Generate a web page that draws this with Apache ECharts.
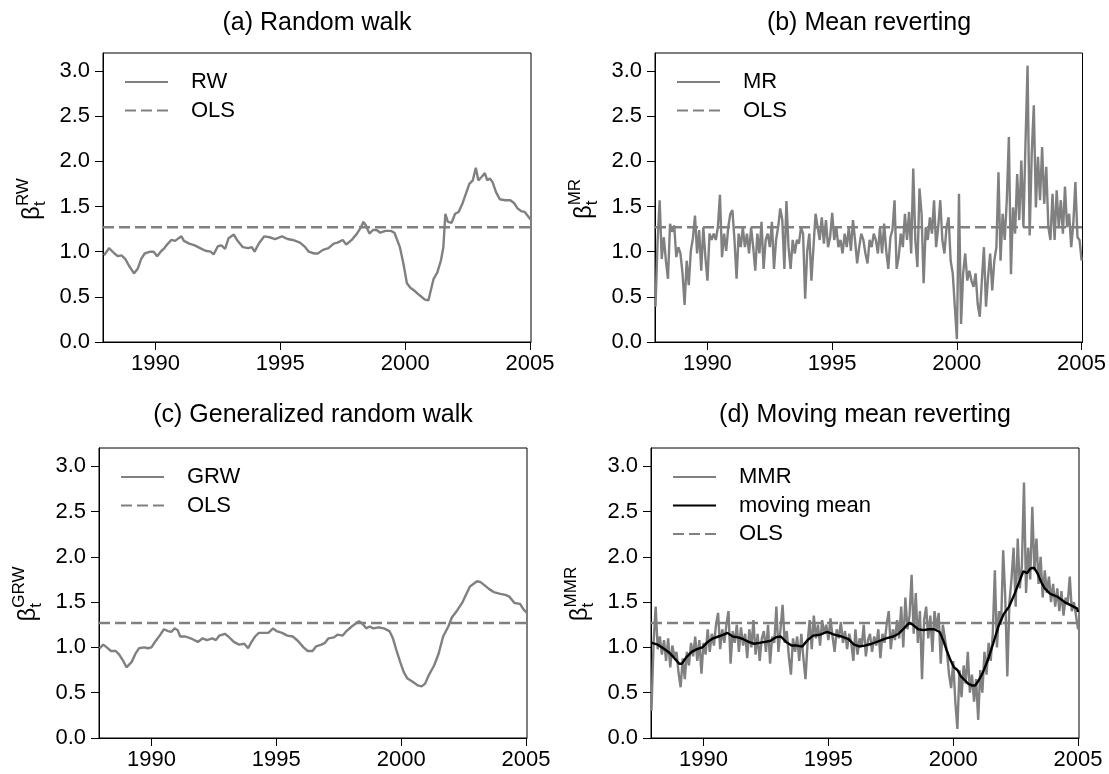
<!DOCTYPE html>
<html><head><meta charset="utf-8">
<script src="https://cdn.jsdelivr.net/npm/echarts@6/dist/echarts.min.js"></script>
<style>html,body{margin:0;padding:0;background:#fff}#c{width:1109px;height:774px}</style>
</head><body><div id="c"></div>
<script>
// ---------- data ----------
const monthStart = 1987.92;          // first monthly observation
const xTicks = [1990, 1995, 2000, 2005];
const yTicks = [0, 0.5, 1, 1.5, 2, 2.5, 3];
const olsValue = 1.27;
const panelTitles = ['(a) Random walk', '(b) Mean reverting', '(c) Generalized random walk', '(d) Moving mean reverting'];
const supLabels = ['RW', 'MR', 'GRW', 'MMR'];

const rwYears = [1987.94,1988.07,1988.14,1988.36,1988.5,1988.64,1988.79,1988.93,1989.07,1989.14,
1989.29,1989.43,1989.57,1989.79,1989.93,1990.07,1990.21,1990.36,1990.5,1990.64,
1990.79,1990.93,1991.04,1991.14,1991.36,1991.57,1991.79,1992.0,1992.21,1992.33,
1992.5,1992.64,1992.79,1992.93,1993.14,1993.29,1993.5,1993.71,1993.86,1993.97,
1994.14,1994.36,1994.57,1994.79,1995.07,1995.29,1995.5,1995.79,1996.0,1996.14,
1996.36,1996.5,1996.71,1996.93,1997.14,1997.29,1997.5,1997.64,1997.86,1998.07,
1998.21,1998.33,1998.43,1998.57,1998.71,1998.86,1999.0,1999.21,1999.43,1999.57,
1999.64,1999.79,1999.93,2000.07,2000.21,2000.36,2000.57,2000.79,2000.93,2001.0,
2001.14,2001.29,2001.43,2001.53,2001.61,2001.71,2001.86,2002.0,2002.14,2002.29,
2002.43,2002.57,2002.71,2002.83,2002.93,2003.07,2003.19,2003.29,2003.39,2003.5,
2003.64,2003.79,2004.0,2004.21,2004.36,2004.5,2004.64,2004.79,2004.93,2005.04];
const rwValues = [0.96,1.01,1.04,0.98,0.95,0.96,0.92,0.85,0.79,0.76,
0.81,0.92,0.98,1.00,1.00,0.95,1.00,1.04,1.09,1.13,
1.12,1.15,1.17,1.12,1.09,1.07,1.04,1.01,1.00,0.97,
1.06,1.07,1.03,1.15,1.19,1.12,1.05,1.04,1.05,1.00,
1.09,1.17,1.16,1.14,1.17,1.14,1.13,1.10,1.05,1.00,
0.98,0.98,1.02,1.04,1.09,1.10,1.13,1.08,1.13,1.20,
1.26,1.33,1.29,1.20,1.24,1.24,1.21,1.23,1.23,1.21,
1.20,1.05,0.87,0.65,0.60,0.57,0.52,0.47,0.46,0.48,
0.70,0.77,0.90,1.05,1.42,1.33,1.32,1.42,1.44,1.53,
1.64,1.75,1.79,1.93,1.79,1.83,1.87,1.79,1.81,1.77,
1.66,1.58,1.57,1.57,1.54,1.48,1.45,1.44,1.39,1.35];

const mrValues = [
0.39,1.11,1.57,0.92,1.16,0.90,0.70,1.31,1.22,1.29,0.94,1.05,
0.98,0.76,0.41,0.90,0.63,1.01,1.15,1.40,0.98,1.24,0.79,1.27,
0.94,0.68,1.20,1.13,1.20,1.13,1.27,1.63,0.94,1.20,1.01,1.27,
1.42,1.46,1.13,0.70,1.20,1.05,1.27,1.05,1.20,0.98,1.27,1.05,
0.79,1.20,0.98,1.33,0.81,1.13,1.20,1.05,1.33,0.81,1.13,1.27,
1.48,1.35,0.81,1.56,1.05,0.81,1.13,0.98,1.13,1.09,1.27,1.20,
0.48,1.01,1.20,0.68,1.05,1.42,1.27,1.13,1.38,1.09,1.35,1.05,
1.16,1.43,1.13,1.27,1.05,1.13,0.98,1.20,1.05,1.27,1.01,1.35,
1.13,0.87,1.05,1.20,1.13,0.98,0.87,1.13,1.05,1.20,1.13,0.98,
1.27,0.98,1.31,1.01,0.81,1.16,1.24,1.57,0.81,0.94,1.20,1.05,
1.42,1.13,1.44,0.98,1.92,1.13,0.83,1.70,1.42,0.65,1.27,1.13,
1.38,1.20,1.57,1.05,1.27,1.57,1.13,0.98,1.27,1.38,0.90,0.76,
0.39,0.03,1.64,0.20,0.76,0.98,0.68,0.79,0.68,0.61,0.76,0.42,
0.28,0.68,1.05,0.39,0.72,0.98,0.57,0.90,1.05,1.88,0.90,1.42,
1.13,1.57,2.27,0.75,1.49,1.20,1.86,1.35,2.01,1.27,2.20,3.06,
1.18,2.08,2.62,1.49,2.05,1.57,2.16,1.53,1.94,1.27,1.13,1.64,
1.13,1.68,1.27,1.57,1.20,1.72,1.27,1.42,1.05,1.31,1.77,1.16,1.13,0.90];

const grwYears = [1987.92,1988.07,1988.21,1988.38,1988.57,1988.71,1988.85,1989.0,1989.07,1989.21,
1989.36,1989.5,1989.71,1989.86,1990.0,1990.14,1990.33,1990.5,1990.67,1990.79,
1990.93,1991.05,1991.15,1991.36,1991.65,1991.86,1992.05,1992.22,1992.44,1992.58,
1992.72,1992.94,1993.08,1993.3,1993.51,1993.72,1993.87,1994.01,1994.15,1994.3,
1994.51,1994.68,1994.87,1995.01,1995.23,1995.44,1995.66,1995.87,1996.09,1996.26,
1996.45,1996.59,1996.81,1996.95,1997.09,1997.31,1997.45,1997.66,1997.81,1998.02,
1998.17,1998.31,1998.45,1998.6,1998.74,1998.88,1999.1,1999.31,1999.53,1999.67,
1999.81,1999.96,2000.1,2000.24,2000.46,2000.67,2000.82,2000.96,2001.1,2001.32,
2001.5,2001.68,2001.89,2002.03,2002.25,2002.46,2002.61,2002.75,2002.89,2003.04,
2003.18,2003.32,2003.54,2003.71,2003.97,2004.18,2004.33,2004.54,2004.76,2004.9,2005.04];
const grwValues = [0.99,1.03,1.00,0.96,0.96,0.92,0.86,0.78,0.77,0.84,
0.93,0.99,1.00,0.99,1.00,1.06,1.13,1.20,1.18,1.17,
1.21,1.19,1.12,1.12,1.09,1.06,1.10,1.08,1.10,1.08,
1.13,1.15,1.12,1.06,1.03,1.04,0.99,1.06,1.12,1.16,
1.16,1.16,1.21,1.18,1.16,1.13,1.12,1.07,1.00,0.96,
0.96,1.01,1.03,1.05,1.10,1.11,1.14,1.13,1.18,1.23,
1.26,1.29,1.26,1.21,1.23,1.21,1.22,1.21,1.18,1.10,
0.97,0.84,0.73,0.66,0.62,0.58,0.57,0.60,0.69,0.80,
0.93,1.12,1.23,1.33,1.41,1.50,1.59,1.67,1.70,1.73,
1.72,1.69,1.64,1.61,1.59,1.58,1.56,1.49,1.48,1.42,1.38];

const mmrValues = [
0.30,1.05,1.45,0.98,1.12,0.92,1.08,0.85,1.10,0.78,1.02,0.90,
0.95,0.72,0.56,0.88,0.65,0.95,0.80,1.05,0.90,1.12,0.85,1.08,
0.71,1.05,0.92,1.20,0.95,1.15,1.02,1.25,1.38,0.98,1.20,1.05,
1.25,1.40,0.82,1.18,1.05,1.25,0.95,1.22,1.02,1.15,0.88,1.20,
1.00,1.30,0.92,1.15,0.85,1.10,1.18,0.95,1.25,0.82,1.12,1.05,
1.45,0.95,1.20,1.47,1.05,1.18,0.90,0.70,1.10,0.95,1.12,0.85,
1.15,0.88,0.65,1.05,1.30,0.98,1.35,1.10,1.25,1.02,1.30,1.15,
1.25,1.08,1.32,1.12,0.95,1.20,1.10,1.28,1.05,1.18,0.98,1.15,
1.05,0.85,1.20,0.92,1.10,1.02,1.25,0.90,1.08,1.15,0.95,1.12,
1.02,1.20,0.88,1.15,1.05,1.25,1.40,0.98,1.20,1.08,1.30,1.10,
1.45,1.00,1.55,1.20,1.35,1.80,1.15,1.60,1.05,1.40,0.65,1.30,
1.45,1.10,1.35,0.95,1.40,1.20,1.38,0.82,1.25,1.10,0.95,0.70,
0.55,0.85,0.40,0.10,0.75,0.45,0.80,0.60,0.95,0.50,0.70,0.40,
0.65,0.20,0.75,0.50,0.95,0.70,1.05,0.85,1.15,1.85,1.00,1.40,
1.25,2.07,1.55,0.68,1.50,1.75,2.10,1.45,2.20,1.65,1.90,2.82,
1.60,2.10,1.75,2.55,1.85,2.20,1.70,2.00,1.55,1.85,1.60,1.78,
1.50,1.70,1.45,1.65,1.40,1.62,1.35,1.55,1.48,1.78,1.40,1.50,1.35,1.20];

const mmYears = [1987.93,1988.17,1988.39,1988.6,1988.81,1989.03,1989.14,1989.31,1989.53,1989.74,
1989.96,1990.17,1990.39,1990.6,1990.81,1990.96,1991.17,1991.39,1991.6,1991.81,
1992.03,1992.24,1992.46,1992.67,1992.89,1993.1,1993.31,1993.53,1993.74,1993.96,
1994.17,1994.39,1994.67,1994.96,1995.24,1995.53,1995.81,1996.03,1996.24,1996.46,
1996.74,1997.03,1997.31,1997.6,1997.81,1998.03,1998.24,1998.39,1998.6,1998.81,
1999.03,1999.24,1999.46,1999.6,1999.74,1999.89,2000.03,2000.17,2000.31,2000.46,
2000.6,2000.74,2000.89,2001.03,2001.17,2001.39,2001.6,2001.81,2002.03,2002.24,
2002.46,2002.67,2002.81,2002.96,2003.1,2003.24,2003.39,2003.53,2003.67,2003.89,
2004.17,2004.46,2004.74,2004.96,2005.0];
const mmValues = [1.05,1.03,0.99,0.95,0.89,0.82,0.82,0.89,0.95,0.98,
1.00,1.06,1.10,1.12,1.14,1.16,1.12,1.11,1.09,1.06,
1.04,1.05,1.06,1.07,1.11,1.12,1.06,1.02,1.02,1.01,
1.08,1.13,1.14,1.17,1.14,1.12,1.09,1.03,1.01,1.02,
1.04,1.07,1.10,1.12,1.15,1.21,1.27,1.25,1.20,1.19,
1.20,1.20,1.17,1.08,0.97,0.86,0.78,0.75,0.68,0.64,
0.60,0.58,0.58,0.64,0.71,0.86,1.04,1.23,1.37,1.45,
1.59,1.74,1.84,1.82,1.87,1.88,1.81,1.72,1.65,1.59,
1.56,1.50,1.46,1.43,1.39];

// ---------- chart ----------
const FF = "'Liberation Sans', Arial, Helvetica, sans-serif";
const GRAY = '#808080';
const xMin = 1987.9, xMax = 2005.04;
const grids = [
  {left: 103, top: 53, width: 428, height: 289},
  {left: 655, top: 53, width: 428, height: 289},
  {left: 99, top: 448, width: 428, height: 290},
  {left: 651, top: 448, width: 428, height: 290}
];

const pairs = (xs, ys) => ys.map((v, i) => [xs[i], v]);
const monthly = ys => ys.map((v, i) => [monthStart + i / 12, v]);

const xAxes = grids.map((g, k) => ({
  type: 'value', gridIndex: k, min: xMin, max: xMax,
  axisLine: {show: true, onZero: false, lineStyle: {color: '#000', width: 1}},
  axisTick: {show: true, inside: false, length: 8, customValues: xTicks, lineStyle: {color: '#000', width: 1}},
  axisLabel: {customValues: xTicks, fontSize: 22, color: '#000', fontFamily: FF, margin: 11,
    formatter: v => String(Math.round(v))},
  splitLine: {show: false}
}));
const yAxes = grids.map((g, k) => ({
  type: 'value', gridIndex: k, min: 0, max: 3.2,
  axisLine: {show: true, onZero: false, lineStyle: {color: '#000', width: 1}},
  axisTick: {show: true, inside: false, length: 8, customValues: yTicks, lineStyle: {color: '#000', width: 1}},
  axisLabel: {customValues: yTicks, fontSize: 22, color: '#000', fontFamily: FF, margin: 13,
    formatter: v => Number(v).toFixed(1)},
  splitLine: {show: false}
}));

function lineSeries(name, k, data, color, width) {
  return {type: 'line', name, xAxisIndex: k, yAxisIndex: k, data, symbol: 'none', showSymbol: false,
    lineStyle: {color, width}, itemStyle: {color}, z: 3};
}
function olsSeries(k) {
  return {type: 'line', name: 'OLS', xAxisIndex: k, yAxisIndex: k,
    data: [[xMin, olsValue], [xMax, olsValue]], symbol: 'none', showSymbol: false,
    lineStyle: {color: GRAY, width: 2.5, type: [11, 5]}, itemStyle: {color: GRAY}, z: 2};
}

const series = [
  lineSeries('RW', 0, pairs(rwYears, rwValues), GRAY, 2.4), olsSeries(0),
  lineSeries('MR', 1, monthly(mrValues), GRAY, 2.4), olsSeries(1),
  lineSeries('GRW', 2, pairs(grwYears, grwValues), GRAY, 2.4), olsSeries(2),
  lineSeries('MMR', 3, monthly(mmrValues), GRAY, 2.4),
  Object.assign(lineSeries('moving mean', 3, pairs(mmYears, mmValues), '#000', 2.4), {z: 4}),
  olsSeries(3)
];

const legendBase = {orient: 'vertical', padding: 0, itemWidth: 43, itemHeight: 14, itemGap: 6.5,
  selectedMode: false, itemStyle: {opacity: 0, borderWidth: 0},
  textStyle: {fontSize: 22, color: '#000', fontFamily: FF, padding: [0, 0, 0, 18]}};
const legends = [
  Object.assign({data: ['RW', 'OLS'], left: 124, top: 71}, legendBase),
  Object.assign({data: ['MR', 'OLS'], left: 676, top: 71}, legendBase),
  Object.assign({data: ['GRW', 'OLS'], left: 120, top: 466}, legendBase),
  Object.assign({data: ['MMR', 'moving mean', 'OLS'], left: 672, top: 466}, legendBase)
];

const measure = (txt, font) => {
  const ctx = document.createElement('canvas').getContext('2d');
  ctx.font = font; return ctx.measureText(txt).width;
};
function yLabel(cx, cy, sup) {
  const fBig = '24px ' + FF, fSmall = '17px ' + FF;
  const wb = measure('β', fBig), ws = measure(sup, fSmall);
  const x0 = -(wb + ws) / 2;
  const st = (text, font) => ({text, font, fill: '#000', align: 'left', verticalAlign: 'middle',
    textAlign: 'left', textVerticalAlign: 'middle'});
  return {type: 'group', x: cx, y: cy, rotation: Math.PI / 2, silent: true, children: [
    {type: 'text', x: x0, y: 0, style: st('β', fBig)},
    {type: 'text', x: x0 + wb, y: 8, style: st('t', fSmall)},
    {type: 'text', x: x0 + wb, y: -9, style: st(sup, fSmall)}
  ]};
}
const titleCenters = [[317, 23], [869, 23], [313, 415], [865, 415]];
const labelCenters = [[32, 199], [584, 199], [28, 594], [580, 594]];
const graphics = [];
panelTitles.forEach((t, k) => graphics.push({type: 'text', x: titleCenters[k][0], y: titleCenters[k][1], silent: true,
  style: {text: t, font: '25px ' + FF, fill: '#000', align: 'center', verticalAlign: 'middle',
    textAlign: 'center', textVerticalAlign: 'middle'}}));
supLabels.forEach((s, k) => graphics.push(yLabel(labelCenters[k][0], labelCenters[k][1], s)));

const chart = echarts.init(document.getElementById('c'), null, {renderer: 'canvas'});
chart.setOption({
  backgroundColor: '#fff',
  animation: false,
  grid: grids.map(g => Object.assign({show: true, borderColor: '#000', borderWidth: 1, backgroundColor: 'transparent', containLabel: false}, g)),
  xAxis: xAxes, yAxis: yAxes, legend: legends, series, graphic: graphics
});
</script></body></html>
